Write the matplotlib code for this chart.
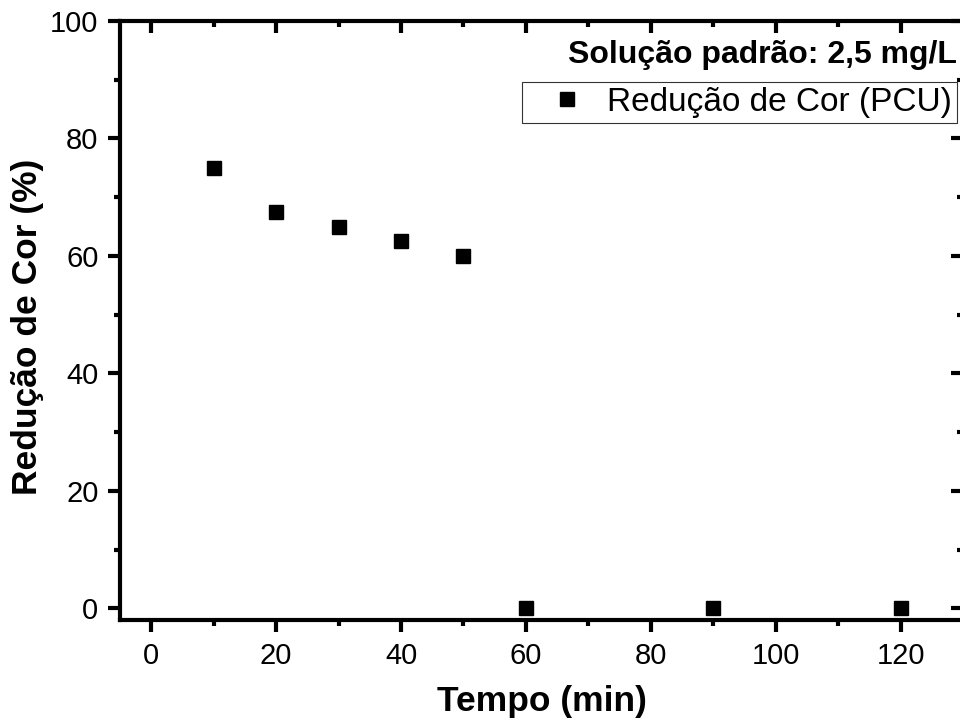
import matplotlib
matplotlib.use("Agg")
import matplotlib.pyplot as plt
from matplotlib.ticker import MultipleLocator

plt.rcParams["font.family"] = ["Liberation Sans", "DejaVu Sans"]

tempo = [10, 20, 30, 40, 50, 60, 90, 120]
reducao = [75, 67.5, 65, 62.5, 60, 0, 0, 0]

fig = plt.figure(figsize=(9.6, 7.22), dpi=100)
# right spine sits just past the edge of the figure
ax = fig.add_axes([120 / 960, 1 - 620 / 722, 843 / 960, 599 / 722])

ax.plot(tempo, reducao, "s", color="black", markersize=9.5, label="Redução de Cor (PCU)")

ax.set_xlim(-5, 130)
ax.set_ylim(-2, 100)
ax.xaxis.set_major_locator(MultipleLocator(20))
ax.xaxis.set_minor_locator(MultipleLocator(10))
ax.yaxis.set_major_locator(MultipleLocator(20))
ax.yaxis.set_minor_locator(MultipleLocator(10))

for s in ax.spines.values():
    s.set_linewidth(3)

ax.tick_params(axis="both", which="major", direction="out", length=8.5, width=3,
               labelsize=21)
ax.tick_params(axis="both", which="minor", direction="out", length=4, width=3)
ax.tick_params(axis="x", which="major", pad=7)
ax.tick_params(axis="y", which="major", pad=7)
ax.tick_params(top=True, right=True, which="both")
# ticks on the top and right edges point inward
for t in ax.xaxis.get_major_ticks() + ax.xaxis.get_minor_ticks():
    t.tick2line.set_marker(3)
for t in ax.yaxis.get_major_ticks() + ax.yaxis.get_minor_ticks():
    t.tick2line.set_marker(0)

ax.set_xlabel("Tempo (min)", fontsize=25.5, fontweight="bold", labelpad=11)
ax.set_ylabel("Redução de Cor (%)", fontsize=25.5, fontweight="bold")
ax.yaxis.set_label_coords(-0.09, 0.49)

ax.text(957, 722 - 63, "Solução padrão: 2,5 mg/L", transform=None, fontsize=23,
        fontweight="bold", ha="right", va="baseline")

leg = ax.legend(loc="upper right", bbox_to_anchor=(957 / 960, 1 - 82 / 722),
                bbox_transform=fig.transFigure, fontsize=24, frameon=True,
                fancybox=False, edgecolor="black", borderpad=0.15,
                handlelength=2.4, handletextpad=0.0, borderaxespad=0)
leg.get_frame().set_linewidth(0.8)

fig.savefig("out.png", dpi=100)
